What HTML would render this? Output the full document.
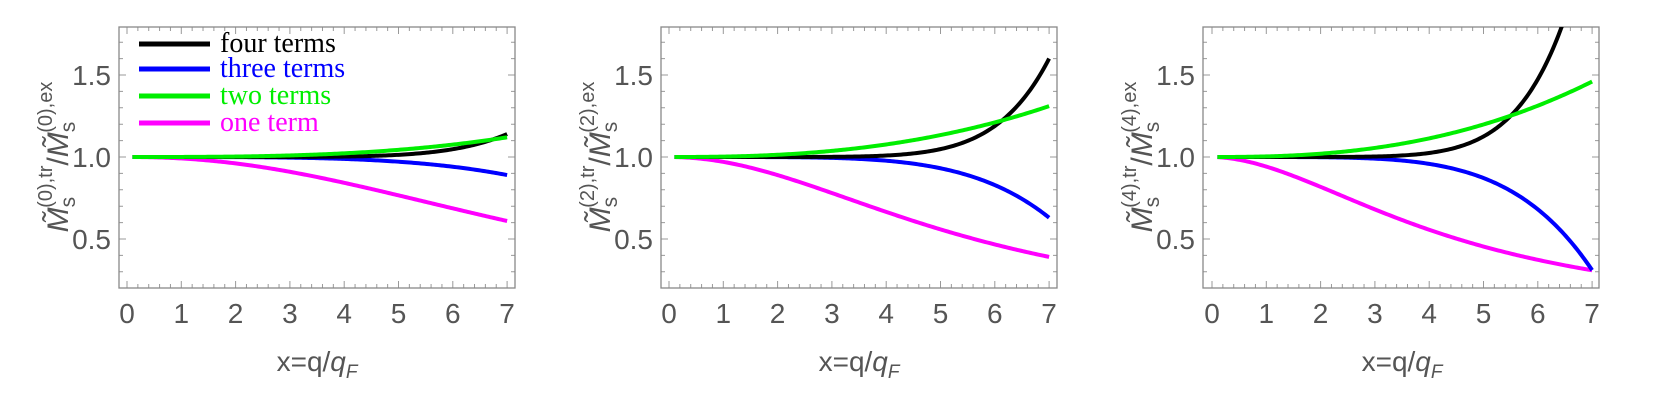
<!DOCTYPE html>
<html><head><meta charset="utf-8">
<style>
html,body{margin:0;padding:0;background:#fff;width:1661px;height:401px;overflow:hidden}
svg{display:block}
</style></head>
<body>
<svg id="s" width="1661" height="401" xmlns="http://www.w3.org/2000/svg"></svg>
<script>
const svg=document.getElementById('s');
let out='';
const Y=v=>157-(v-1)*164;
const panels=[
 {fl:119,x0:127,n:0,
  f:[[ '#000',x=>1+0.14*Math.pow(x/7,7)],
     [ '#0000ff',x=>1-0.11*Math.pow(x/7,4)],
     [ '#00ee00',x=>1+0.12*Math.pow(x/7,3)],
     [ '#ff00ff',x=>1/(1+0.00885*Math.pow(x,2.2))]]},
 {fl:661,x0:669,n:2,
  f:[[ '#000',x=>1+0.6*Math.pow(x/7,7.5)],
     [ '#0000ff',x=>1-0.37*Math.pow(x/7,5)],
     [ '#00ee00',x=>1+0.31*Math.pow(x/7,2.5)],
     [ '#ff00ff',x=>1/(1+0.0306*Math.pow(x,2.02))]]},
 {fl:1203,x0:1212,n:4,
  f:[[ '#000',x=>1+1.46*Math.pow(x/7,7.3)],
     [ '#0000ff',x=>1-0.69*Math.pow(x/7,5)],
     [ '#00ee00',x=>1+0.46*Math.pow(x/7,2.5)],
     [ '#ff00ff',x=>1/(1+0.0622*Math.pow(x,1.84))]]}
];
const order=[3,1,0,2];
for(const p of panels){
  const L=p.fl,R=p.fl+396,T=27,B=288,sx=54.3;
  out+=`<clipPath id="c${p.n}"><rect x="${L}" y="${T}" width="${R-L}" height="${B-T}"/></clipPath>`;
  let t='';
  for(let i=0;i<=36;i++){const x=p.x0+i*sx/5;if(x>R)break;const maj=i%5==0;const len=maj?7:4;
    t+=`M${x} ${B}v-${len}M${x} ${T}v${len}`;}
  for(let i=2;i<=18;i++){const v=i/10;const y=Y(v);if(y<T||y>B)continue;const maj=i%5==0;const len=maj?7:4;
    t+=`M${L} ${y}h${len}M${R} ${y}h-${len}`;}
  out+=`<path d="${t}" stroke="#999" stroke-width="1" fill="none"/>`;
  out+=`<rect x="${L}" y="${T}" width="${R-L}" height="${B-T}" fill="none" stroke="#888" stroke-width="1.3"/>`;
  for(let i=0;i<=7;i++) out+=`<text x="${p.x0+i*sx}" y="323" font-size="28" text-anchor="middle" fill="#555" font-family="Liberation Sans, sans-serif">${i}</text>`;
  for(const v of [0.5,1.0,1.5]) out+=`<text x="${L-8}" y="${Y(v)+10}" font-size="28" text-anchor="end" fill="#555" font-family="Liberation Sans, sans-serif">${v.toFixed(1)}</text>`;
  out+=`<text x="${p.x0+3.5*sx}" y="371" font-size="28" text-anchor="middle" fill="#555" font-family="Liberation Sans, sans-serif">x=q/<tspan font-style="italic">q</tspan><tspan font-size="19" font-style="italic" dy="7">F</tspan></text>`;
  const cx=L-69;
  out+=`<text transform="translate(${cx+18},157) rotate(-90)" text-anchor="middle" fill="#555" font-family="Liberation Sans, sans-serif" font-size="30"><tspan font-style="italic">M̃</tspan><tspan font-size="21" dy="7">s</tspan><tspan font-size="20" dx="-11" dy="-23">(${p.n}),tr</tspan><tspan dy="16">/</tspan><tspan font-style="italic">M̃</tspan><tspan font-size="21" dy="7">s</tspan><tspan font-size="20" dx="-11" dy="-23">(${p.n}),ex</tspan></text>`;
  let g=`<g clip-path="url(#c${p.n})">`;
  for(const k of order){const [col,fn]=p.f[k];let d='';
    for(let i=0;i<=200;i++){const x=0.1+6.9*i/200;d+=(i?'L':'M')+(p.x0+x*sx).toFixed(2)+' '+Y(fn(x)).toFixed(2);}
    g+=`<path d="${d}" stroke="${col}" stroke-width="4" fill="none" stroke-linejoin="round"/>`;}
  out+=g+'</g>';
}
const leg=[['#000','four terms',44],['#0000ff','three terms',69],['#00ee00','two terms',96],['#ff00ff','one term',123]];
for(const [c,s,y] of leg){
  out+=`<line x1="139" y1="${y}" x2="210" y2="${y}" stroke="${c}" stroke-width="5"/>`;
  out+=`<text x="220" y="${y+8}" font-size="28" fill="${c}" font-family="Liberation Serif, serif">${s}</text>`;
}
svg.innerHTML=out;
</script>
</body></html>
